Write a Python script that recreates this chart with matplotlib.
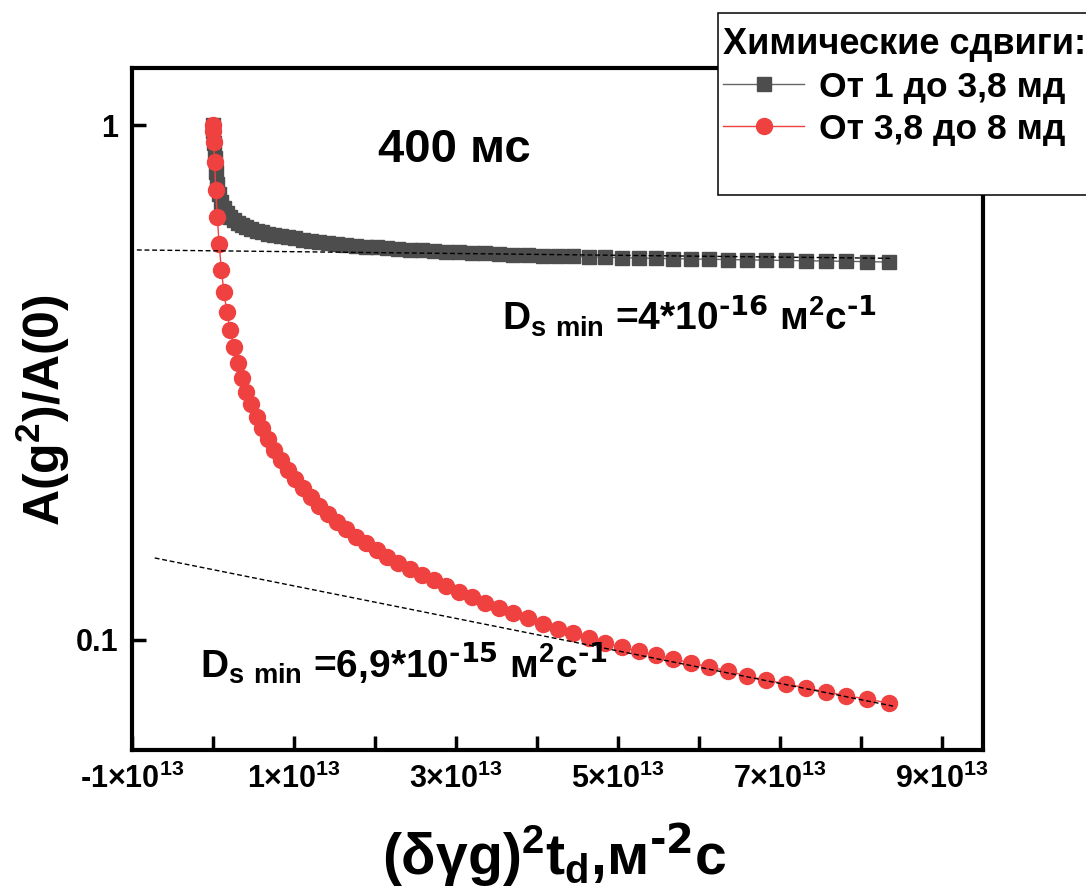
import numpy as np
import matplotlib
matplotlib.use("Agg")
import matplotlib.pyplot as plt
from matplotlib.patches import Rectangle

plt.rcParams['font.family'] = ['Liberation Sans', 'DejaVu Sans']
plt.rcParams['font.weight'] = 'bold'
plt.rcParams['mathtext.default'] = 'regular'

# x values in units of 1e13 (same grid for both series)
x_e13 = [0.0, 0.0021, 0.0084, 0.0189, 0.0336, 0.0525, 0.0756, 0.1029, 0.1344, 0.1701,
         0.21, 0.2541, 0.3024, 0.3549, 0.4116, 0.4725, 0.5376, 0.6069, 0.6804, 0.7581,
         0.84, 0.9261, 1.0164, 1.1109, 1.2096, 1.3125, 1.4196, 1.5309, 1.6464, 1.7661,
         1.89, 2.0181, 2.1504, 2.2869, 2.4276, 2.5725, 2.7216, 2.8749, 3.0324, 3.1941,
         3.36, 3.5301, 3.7044, 3.8829, 4.0656, 4.2525, 4.4436, 4.6389, 4.8384, 5.0421,
         5.25, 5.4621, 5.6784, 5.8989, 6.1236, 6.3525, 6.5856, 6.8229, 7.0644, 7.3101,
         7.56, 7.8141, 8.0724, 8.3349]

# От 1 до 3,8 мд
y_black = [1.0, 0.9735, 0.9227, 0.8628, 0.8102, 0.7679, 0.7343, 0.7085, 0.6897, 0.6745,
           0.6625, 0.6537, 0.6450, 0.6393, 0.6336, 0.6280, 0.6238, 0.6196, 0.6154, 0.6113,
           0.6086, 0.6054, 0.6021, 0.5992, 0.5965, 0.5939, 0.5912, 0.5886, 0.5860, 0.5834,
           0.5808, 0.5787, 0.5769, 0.5748, 0.5730, 0.5712, 0.5692, 0.5677, 0.5661, 0.5646,
           0.5631, 0.5616, 0.5603, 0.5591, 0.5578, 0.5566, 0.5556, 0.5546, 0.5536, 0.5526,
           0.5516, 0.5509, 0.5501, 0.5495, 0.5487, 0.5480, 0.5472, 0.5465, 0.5458, 0.5450,
           0.5443, 0.5436, 0.5428, 0.5419]

# От 3,8 до 8 мд
y_red = [1.0, 0.9735, 0.9267, 0.8475, 0.7477, 0.6627, 0.5873, 0.5229, 0.4737, 0.4334,
         0.3998, 0.3706, 0.3449, 0.3226, 0.3031, 0.2872, 0.2710, 0.2580, 0.2456, 0.2338,
         0.2236, 0.2138, 0.2054, 0.1973, 0.1895, 0.1821, 0.1757, 0.1695, 0.1643, 0.1585,
         0.1543, 0.1495, 0.1449, 0.1411, 0.1374, 0.1337, 0.1308, 0.1273, 0.1239, 0.1212,
         0.1180, 0.1154, 0.1128, 0.1103, 0.1074, 0.1050, 0.1031, 0.1009, 0.0987, 0.0969,
         0.0952, 0.0935, 0.0919, 0.0902, 0.0886, 0.0871, 0.0851, 0.0836, 0.0822, 0.0807,
         0.0793, 0.0779, 0.0768, 0.0754]

# dashed fit lines (end points)
fit_black_x = [-0.94, 8.35]
fit_black_y = [0.572, 0.551]
fit_red_x = [-0.72, 8.39]
fit_red_y = [0.1443, 0.0744]

labels = ['От 1 до 3,8 мд', 'От 3,8 до 8 мд']
legend_title = 'Химические сдвиги:'
xtick_vals = [-1, 1, 3, 5, 7, 9]
xtick_labels = ['-1×10$^{13}$', '1×10$^{13}$', '3×10$^{13}$',
                '5×10$^{13}$', '7×10$^{13}$', '9×10$^{13}$']

x = np.array(x_e13) * 1e13

fig = plt.figure(figsize=(10.86, 8.92), dpi=100)
ax = fig.add_axes([0.12155, 0.15919, 0.78361, 0.76457])

black_c = '#4d4d4d'
red_c = '#f04141'

hb, = ax.plot(x, y_black, color='#666666', lw=1, marker='s', ms=10,
              mfc=black_c, mec=black_c, zorder=3)
hr, = ax.plot(x, y_red, color=red_c, lw=1, marker='o', ms=11.5,
              mfc=red_c, mec=red_c, zorder=4)
ax.plot(np.array(fit_black_x) * 1e13, fit_black_y, color='black', lw=1,
        dashes=(3.5, 2), zorder=5)
ax.plot(np.array(fit_red_x) * 1e13, fit_red_y, color='black', lw=1,
        dashes=(3.5, 2), zorder=5)

ax.set_yscale('log')
ax.set_xlim(-1e13, 9.5e13)
ax.set_ylim(0.06114, 1.2904)

ax.set_yticks([0.1, 1])
ax.set_yticklabels(['0.1', '1'])
ax.yaxis.set_minor_locator(matplotlib.ticker.NullLocator())
ax.set_xticks(np.array(xtick_vals) * 1e13)
ax.set_xticklabels(xtick_labels)
ax.set_xticks(np.array([0, 2, 4, 6, 8]) * 1e13, minor=True)

ax.tick_params(which='both', direction='in', length=10, width=2.5,
               labelsize=22, pad=10)
ax.tick_params(axis='y', right=False)
for s in ax.spines.values():
    s.set_linewidth(3)

# text annotations
fig.text(0.348, 0.8184, '400 мс', fontsize=34, fontweight='bold', va='baseline')
fig.text(0.4622, 0.63, 'D$_{s\\ min}$ =4*10$^{\\text{-16}}$ м$^{2}$c$^{\\text{-1}}$',
         fontsize=28, fontweight='bold', va='baseline')
fig.text(0.184, 0.2399, 'D$_{s\\ min}$ =6,9*10$^{\\text{-15}}$ м$^{2}$c$^{\\text{-1}}$',
         fontsize=28, fontweight='bold', va='baseline')

# axis labels
fig.text(43 / 1086, 1 - 410 / 892, 'A(g$^{2}$)/A(0)', fontsize=36,
         fontweight='bold', rotation=90, ha='center', va='center')
fig.text(555 / 1086, 1 - 855 / 892, '(δγg)$^{2}$t$_{d}$,м$^{\\text{-2}}$c', fontsize=41,
         fontweight='bold', ha='center', va='center')

# legend with its frame
frame = Rectangle((718 / 1086, 1 - 195 / 892), 0.37, 182 / 892,
                  transform=fig.transFigure, facecolor='white',
                  edgecolor='black', lw=1.1, zorder=1)
fig.patches.append(frame)
fig.legend([hb, hr], labels, title=legend_title, loc='upper left',
           bbox_to_anchor=(723 / 1086, 1 - 27 / 892), bbox_transform=fig.transFigure,
           frameon=False, fontsize=25.5, title_fontsize=26, alignment='left',
           handlelength=2.3, handletextpad=0.4, labelspacing=0.25,
           borderaxespad=0, borderpad=0)

fig.savefig('out.png', dpi=100)
